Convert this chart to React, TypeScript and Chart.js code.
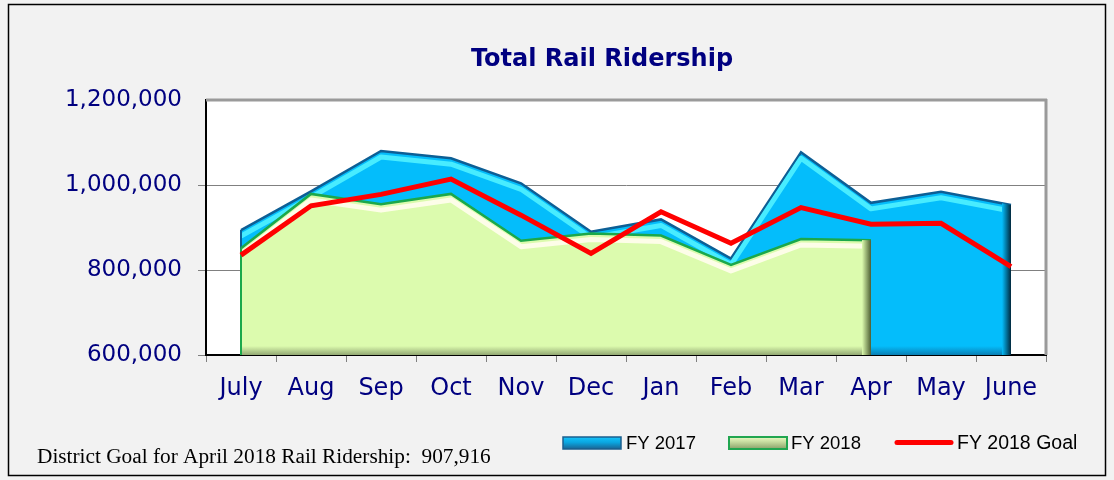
import React, { useEffect, useRef } from 'react';
import { Chart, registerables } from 'chart.js';

Chart.register(...registerables);

const months = ['July', 'Aug', 'Sep', 'Oct', 'Nov', 'Dec', 'Jan', 'Feb', 'Mar', 'Apr', 'May', 'June'];
const fy2017 = [894000, 985000, 1080000, 1063000, 1004000, 890000, 919000, 827000, 1077000, 958000, 984000, 953000];
const fy2018 = [851000, 979000, 955000, 979000, 869000, 886000, 881000, 812000, 873000, 870000, null, null];
const goal2018 = [835000, 951000, 978000, 1014000, 929000, 839000, 937000, 863000, 947000, 907916, 910000, 808000];
const yMin = 600000;
const yMax = 1200000;
const yStep = 200000;
const seriesNames = ['FY 2017', 'FY 2018', 'FY 2018 Goal'];
const chartTitle = 'Total Rail Ridership';
const footnote = 'District Goal for April 2018 Rail Ridership:  907,916';

const NAVY = '#000080';

const bevelStyles: any = {
  0: { body: '#04bdfb', hi: '#48ecff', low: '#0a7fb4', dark: '#01283d', edge: '#0d5f95' },
  1: { body: '#dcfbae', hi: '#fdfde8', low: '#93a874', dark: '#4d5e33', edge: '#1ba84b' },
};

const bevelPlugin = {
  id: 'bevel',
  afterDatasetDraw(chart: any, args: any) {
    const st = bevelStyles[args.index];
    if (!st) return;
    const pts = args.meta.data.filter((p: any) => !p.skip && Number.isFinite(p.y));
    if (pts.length < 2) return;
    const ctx = chart.ctx;
    const area = chart.chartArea;
    const bottom = chart.scales.y.getPixelForValue(yMin);
    const first = pts[0];
    const last = pts[pts.length - 1];
    ctx.save();
    ctx.beginPath();
    ctx.moveTo(first.x, bottom);
    pts.forEach((p: any) => ctx.lineTo(p.x, p.y));
    ctx.lineTo(last.x, bottom);
    ctx.closePath();
    ctx.clip();
    ctx.beginPath();
    pts.forEach((p: any, i: number) => (i ? ctx.lineTo(p.x, p.y + 6) : ctx.moveTo(p.x, p.y + 6)));
    ctx.strokeStyle = st.hi;
    ctx.lineWidth = 5;
    ctx.lineJoin = 'round';
    ctx.stroke();
    const g = ctx.createLinearGradient(0, bottom - 9, 0, bottom);
    g.addColorStop(0, st.body);
    g.addColorStop(1, st.low);
    ctx.fillStyle = g;
    ctx.fillRect(first.x, bottom - 9, last.x - first.x, 9);
    const g2 = ctx.createLinearGradient(last.x - 9, 0, last.x, 0);
    g2.addColorStop(0, st.body);
    g2.addColorStop(1, st.dark);
    ctx.fillStyle = g2;
    ctx.fillRect(last.x - 9, area.top, 9, bottom - area.top);
    ctx.restore();
    ctx.save();
    ctx.strokeStyle = st.edge;
    ctx.lineWidth = 2;
    ctx.beginPath();
    ctx.moveTo(first.x, first.y);
    ctx.lineTo(first.x, bottom);
    ctx.stroke();
    ctx.restore();
  },
};

const decorPlugin = {
  id: 'decor',
  beforeDraw(chart: any) {
    const ctx = chart.ctx;
    const a = chart.chartArea;
    ctx.save();
    ctx.fillStyle = '#f2f2f2';
    ctx.fillRect(0, 0, chart.width, chart.height);
    ctx.fillStyle = '#ffffff';
    ctx.fillRect(a.left, a.top, a.right - a.left, a.bottom - a.top);
    ctx.strokeStyle = '#000000';
    ctx.lineWidth = 1.5;
    ctx.strokeRect(8.5, 4.5, 1097, 471);
    ctx.restore();
  },
  beforeDatasetsDraw(chart: any) {
    const ctx = chart.ctx;
    const a = chart.chartArea;
    ctx.save();
    ctx.strokeStyle = '#9a9a9a';
    ctx.lineWidth = 3;
    ctx.beginPath();
    ctx.moveTo(a.right, a.top - 1);
    ctx.lineTo(a.right, a.bottom);
    ctx.moveTo(a.left, a.top);
    ctx.lineTo(a.right + 1, a.top);
    ctx.stroke();
    ctx.restore();
  },
  afterDraw(chart: any) {
    const ctx = chart.ctx;
    ctx.save();
    ctx.fillStyle = NAVY;
    ctx.font = 'bold 24px "DejaVu Sans"';
    ctx.textAlign = 'center';
    ctx.textBaseline = 'alphabetic';
    ctx.fillText(chartTitle, 602, 66);
    ctx.fillStyle = '#000000';
    ctx.font = '21.3px "Liberation Serif"';
    ctx.textAlign = 'left';
    ctx.fillText(footnote, 37, 463);
    const ds = chart.data.datasets;
    ctx.font = '18.5px "Liberation Sans"';
    let g = ctx.createLinearGradient(0, 437, 0, 449);
    g.addColorStop(0, '#14c4fb');
    g.addColorStop(0.45, '#0aa6e0');
    g.addColorStop(1, '#1a6494');
    ctx.fillStyle = g;
    ctx.fillRect(563, 437, 58, 12);
    ctx.strokeStyle = '#1b5f8e';
    ctx.lineWidth = 1.5;
    ctx.strokeRect(563, 437, 58, 12);
    ctx.fillStyle = '#000000';
    ctx.fillText(ds[0].label, 626, 449);
    g = ctx.createLinearGradient(0, 437, 0, 449);
    g.addColorStop(0, '#eafcc4');
    g.addColorStop(0.4, '#c7dca0');
    g.addColorStop(1, '#8aa16a');
    ctx.fillStyle = g;
    ctx.fillRect(729, 437, 58, 12);
    ctx.strokeStyle = '#21a650';
    ctx.lineWidth = 2;
    ctx.strokeRect(729, 437, 58, 12);
    ctx.fillStyle = '#000000';
    ctx.fillText(ds[1].label, 791, 449);
    ctx.strokeStyle = '#ff0000';
    ctx.lineWidth = 5;
    ctx.lineCap = 'round';
    ctx.beginPath();
    ctx.moveTo(897, 442.5);
    ctx.lineTo(951, 442.5);
    ctx.stroke();
    ctx.font = '19.5px "Liberation Sans"';
    ctx.fillText(ds[2].label, 957, 449);
    ctx.restore();
  },
};

export default function App() {
  const ref = useRef<HTMLCanvasElement | null>(null);
  useEffect(() => {
    if (!ref.current) return;
    const chart = new Chart(ref.current, {
      type: 'line',
      data: {
        labels: months,
        datasets: [
          {
            label: seriesNames[0],
            data: fy2017,
            fill: 'start',
            backgroundColor: '#04bdfb',
            borderColor: '#0d5f95',
            borderWidth: 2.5,
            pointRadius: 0,
            tension: 0,
            order: 3,
          },
          {
            label: seriesNames[1],
            data: fy2018,
            fill: 'start',
            backgroundColor: '#dcfbae',
            borderColor: '#1ba84b',
            borderWidth: 2.5,
            pointRadius: 0,
            tension: 0,
            spanGaps: false,
            order: 2,
          },
          {
            label: seriesNames[2],
            data: goal2018,
            fill: false,
            borderColor: '#ff0000',
            borderWidth: 5,
            pointRadius: 0,
            tension: 0,
            order: 1,
          },
        ],
      },
      options: {
        responsive: false,
        animation: false,
        devicePixelRatio: 1,
        layout: { padding: { left: 56, right: 68, top: 100, bottom: 75 } },
        plugins: {
          legend: { display: false },
          title: { display: false },
          tooltip: { enabled: false },
        },
        scales: {
          x: {
            offset: true,
            afterFit: (s: any) => {
              s.height = 50;
            },
            grid: {
              drawOnChartArea: false,
              drawTicks: true,
              tickLength: 7,
              color: '#808080',
              offset: true,
            },
            border: { display: true, color: '#000000', width: 2 },
            ticks: {
              color: NAVY,
              font: { family: '"DejaVu Sans"', size: 24 },
              padding: 12,
              maxRotation: 0,
              autoSkip: false,
            },
          },
          y: {
            min: yMin,
            max: yMax,
            afterFit: (s: any) => {
              s.width = 150;
            },
            grid: {
              color: '#808080',
              tickColor: '#808080',
              tickLength: 8,
              lineWidth: (c: any) => (c.tick && c.tick.value === yMax ? 0 : 1),
            },
            border: { display: true, color: '#000000', width: 2 },
            ticks: {
              stepSize: yStep,
              color: NAVY,
              font: { family: '"DejaVu Sans"', size: 23 },
              padding: 16,
              callback: (v: any) => Number(v).toLocaleString('en-US'),
            },
          },
        },
      },
      plugins: [decorPlugin, bevelPlugin],
    });
    return () => chart.destroy();
  }, []);
  return (
    <div style={{ position: 'absolute', left: 0, top: 0, width: 1114, height: 480 }}>
      <canvas ref={ref} width={1114} height={480} style={{ display: 'block', width: 1114, height: 480 }} />
    </div>
  );
}
